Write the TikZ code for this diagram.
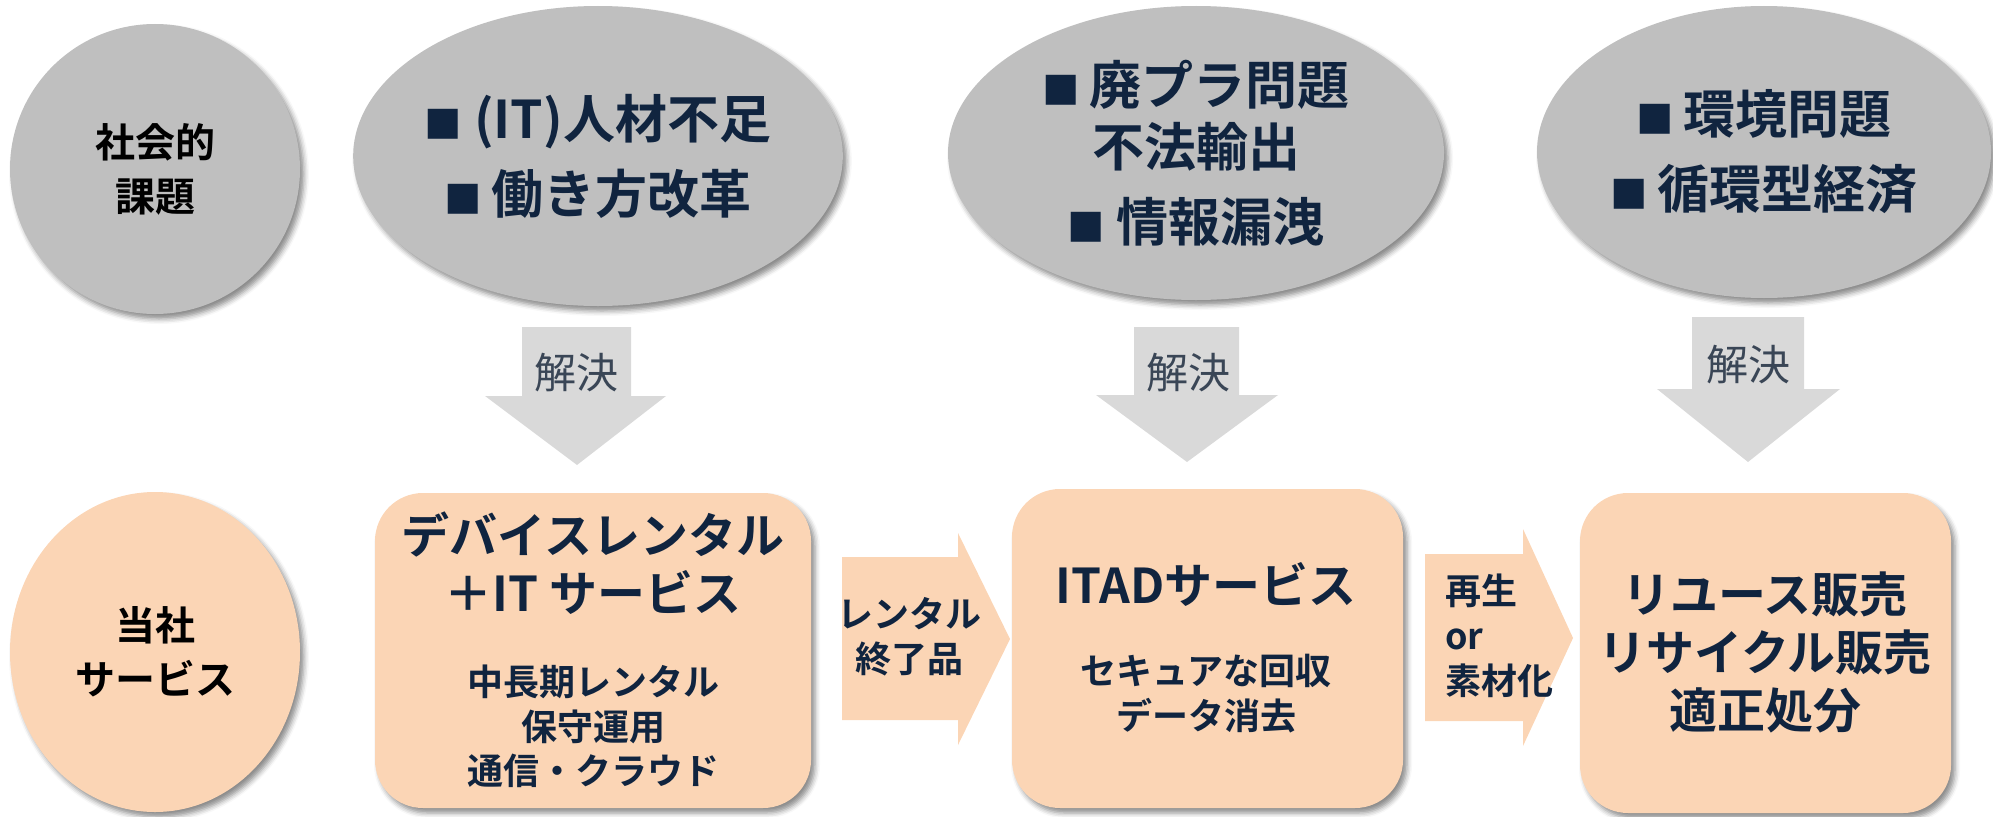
\documentclass[tikz,border=0pt]{standalone}
\usepackage{fontspec}
\usepackage{graphicx}
\setmainfont{Noto Sans CJK JP}[BoldFont={* Bold}]
\usetikzlibrary{shapes.geometric,shadows.blur}
\definecolor{navy}{HTML}{10243F}
\definecolor{peach}{HTML}{FBD5B5}
\definecolor{ellgray}{HTML}{BFBFBF}
\definecolor{arrgray}{HTML}{D9D9D9}
\definecolor{solvetext}{HTML}{3A4656}
\newcommand\bsq{\scalebox{0.72}{■}}
\begin{document}
\begin{tikzpicture}[x=1pt,y=-1pt,
  softshadow/.style={blur shadow={shadow xshift=4pt,shadow yshift=-5pt,shadow blur radius=5pt,shadow opacity=45}},
  issue/.style={ellipse, fill=ellgray, inner sep=0pt, softshadow, text=navy, align=center,
    font=\bfseries\fontsize{52}{75}\selectfont},
  rowlabel/.style={ellipse, inner sep=0pt, softshadow, text=black, align=center,
    font=\bfseries\fontsize{40}{54}\selectfont},
  service/.style={rectangle, rounded corners=48pt, fill=peach, softshadow, inner sep=0pt},
  title/.style={text=navy, inner sep=0pt, align=center, font=\bfseries\fontsize{48}{58}\selectfont},
  sub/.style={text=navy, inner sep=0pt, align=center, font=\bfseries\fontsize{36}{44.5}\selectfont},
  solve/.style={text=solvetext, inner sep=0pt, font=\fontsize{42}{50}\selectfont},
  flowtext/.style={text=navy, inner sep=0pt, font=\bfseries\fontsize{36}{45}\selectfont},
  downarrow/.style={fill=arrgray},
  rightarrow/.style={fill=peach}
]
\useasboundingbox (0,0) rectangle (1993,816);

% top row: issues
\node[rowlabel, fill=ellgray, minimum width=290pt, minimum height=290pt] (e1) at (155,169) {社会的\\課題};
\node[issue, minimum width=488pt, minimum height=300pt] (e2) at (598,156) {\bsq\ (IT)人材不足\\\bsq\,働き方改革};
\node[issue, minimum width=496pt, minimum height=294pt] (e3) at (1196,153) {\bsq\,廃プラ問題\\[-13pt]不法輸出\\\bsq\ 情報漏洩};
\node[issue, minimum width=454pt, minimum height=292pt] (e4) at (1764,152) {\bsq\,環境問題\\\bsq\,循環型経済};

% solve arrows
\fill[downarrow] (522,327) -- (631,327) -- (631,396) -- (666,396) -- (577,465) -- (485,396) -- (522,396) -- cycle;
\fill[downarrow] (1134,327) -- (1239,327) -- (1239,395) -- (1278,395) -- (1187,462) -- (1096,395) -- (1134,395) -- cycle;
\fill[downarrow] (1692,317) -- (1804,317) -- (1804,389) -- (1840,389) -- (1748,462) -- (1657,389) -- (1692,389) -- cycle;
\node[solve] (s1) at (576,373) {解決};
\node[solve] (s2) at (1188,373) {解決};
\node[solve] (s3) at (1748,365) {解決};

% flow arrows
\fill[rightarrow] (842,557) -- (958,557) -- (958,533) -- (1010,639) -- (958,745) -- (958,720) -- (842,720) -- cycle;
\fill[rightarrow] (1425,554) -- (1523,554) -- (1523,529) -- (1573,638) -- (1523,746) -- (1523,721) -- (1425,721) -- cycle;
\node[flowtext, align=center] (f1) at (909,637) {レンタル\\終了品};
\node[flowtext, align=left, anchor=west] (f2) at (1445,636) {再生\\or\\素材化};

% bottom row: services
\node[rowlabel, fill=peach, minimum width=290pt, minimum height=320pt] (e5) at (155,652) {当社\\サービス};
\node[service, minimum width=436pt, minimum height=315pt] (b1) at (593,650.5) {};
\node[service, minimum width=391pt, minimum height=319pt] (b2) at (1207.5,648.5) {};
\node[service, minimum width=371pt, minimum height=320pt] (b3) at (1765.5,653) {};

\node[title] (b1t) at (b1.center |- 0,563) {デバイスレンタル\\＋IT サービス};
\node[sub] (b1s) at (b1.center |- 0,726.5) {中長期レンタル\\保守運用\\通信・クラウド};
\node[title] (b2t) at (1206,584) {ITADサービス};
\node[sub] (b2s) at (1206,693.5) {セキュアな回収\\データ消去};
\node[title] (b3t) at (1765,652) {リユース販売\\リサイクル販売\\適正処分};
\end{tikzpicture}
\end{document}
